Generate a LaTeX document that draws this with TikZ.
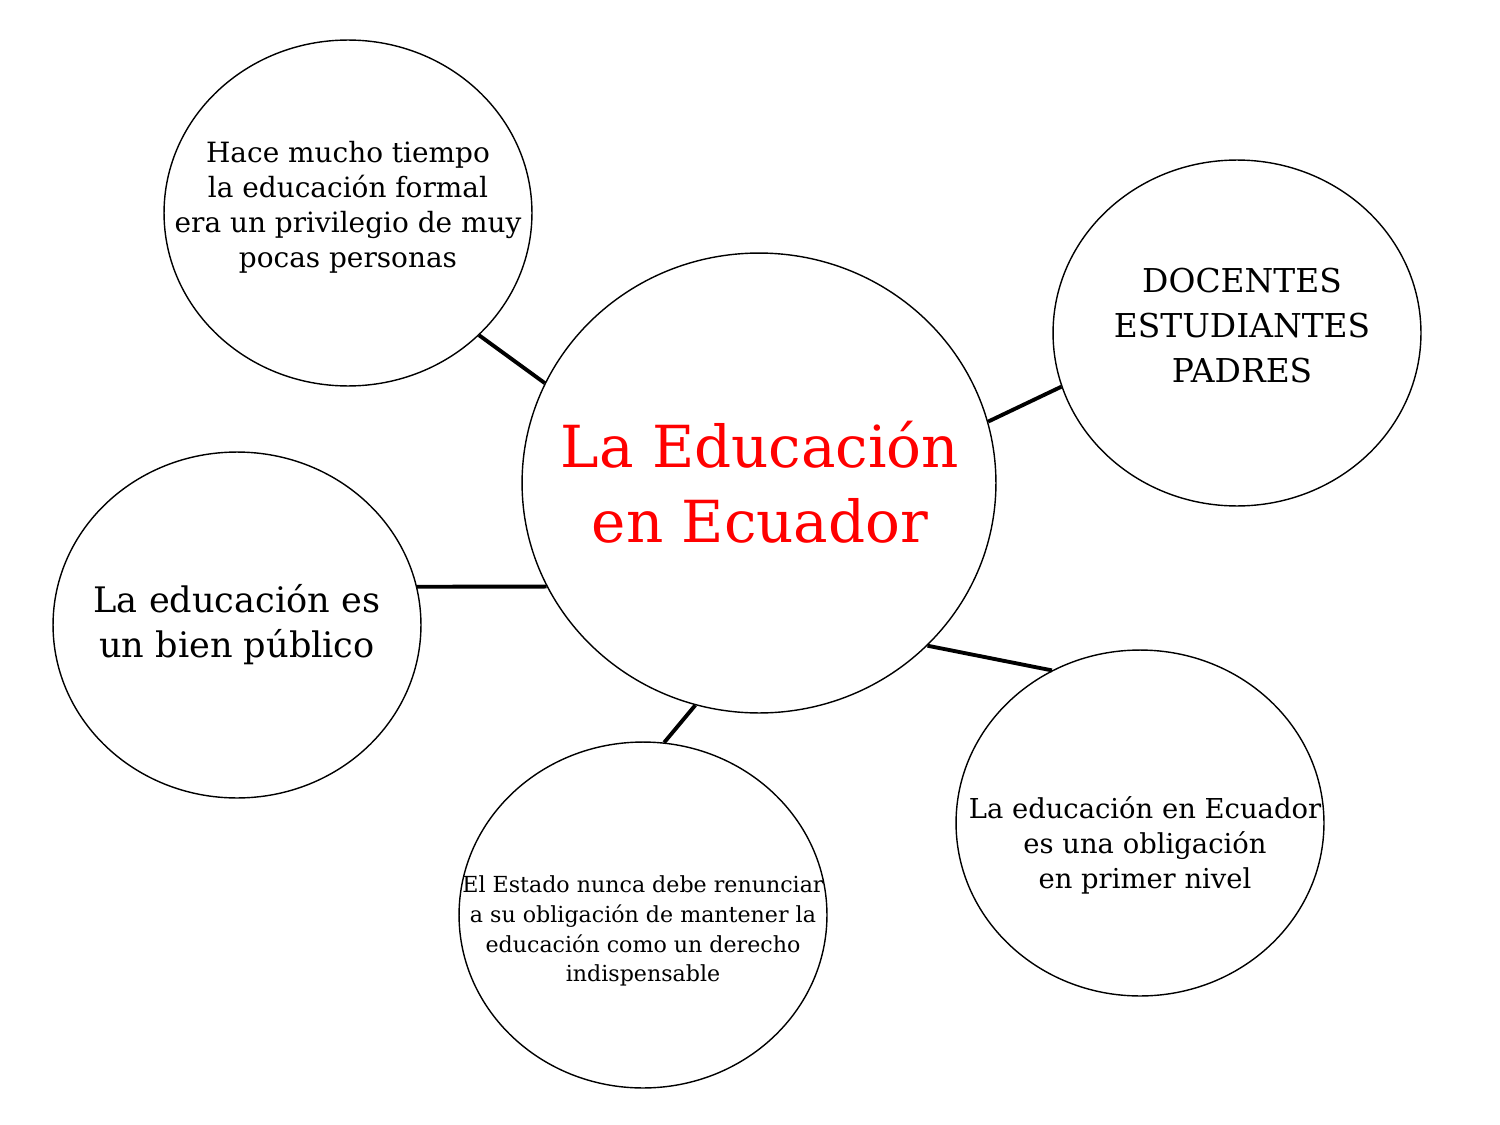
\documentclass[tikz,border=0pt]{standalone}
\usepackage{fontspec}
\setmainfont{DejaVu Serif}
\usetikzlibrary{shapes.geometric}
\begin{document}
\begin{tikzpicture}[x=0.02cm, y=-0.02cm,
        burbuja/.style={draw, ellipse, line width=0.8pt, inner sep=0pt, minimum width=7.36cm, minimum height=6.92cm},
        enlace/.style={line width=2.2pt},
        texto/.style={align=center, inner sep=0pt}]
        \useasboundingbox (0, 0) rectangle (1500, 1125);
        % burbujas
        \node[burbuja] (hace) at (348, 213) {};
        \node[burbuja, minimum width=9.48cm, minimum height=9.2cm] (edu) at (759, 483) {};
        \node[burbuja] (docentes) at (1237, 333) {};
        \node[burbuja] (bien) at (237, 625) {};
        \node[burbuja] (estado) at (643, 915) {};
        \node[burbuja] (obligacion) at (1140, 823) {};
        % enlaces
        \draw[enlace] (hace.-43) -- (edu.155);
        \draw[enlace] (edu.15) -- (docentes.197);
        \draw[enlace] (bien.12) -- (edu.206);
        \draw[enlace] (edu.-44) -- (obligacion.120);
        \draw[enlace] (edu.254) -- (estado.83);
        % textos
        \node[texto, font=\fontsize{15.9}{19.9}\selectfont] (thace) at (348, 207) {Hace mucho tiempo\\la educación formal\\era un privilegio de muy\\pocas personas};
        \node[texto, text=red, font=\fontsize{33}{42.7}\selectfont] (tedu) at (760, 482) {La Educación\\en Ecuador};
        \node[texto, font=\fontsize{18.7}{25.6}\selectfont] (tdocentes) at (1242, 326) {DOCENTES\\ESTUDIANTES\\PADRES};
        \node[texto, font=\fontsize{20}{25.6}\selectfont] (tbien) at (237, 625) {La educación es\\un bien público};
        \node[texto, font=\fontsize{12.6}{17}\selectfont] (testado) at (643, 931) {El Estado nunca debe renunciar\\a su obligación de mantener la\\educación como un derecho\\indispensable};
        \node[texto, font=\fontsize{15.6}{19.9}\selectfont] (tobligacion) at (1145, 845) {La educación en Ecuador\\es una obligación\\en primer nivel};
\end{tikzpicture}
\end{document}
